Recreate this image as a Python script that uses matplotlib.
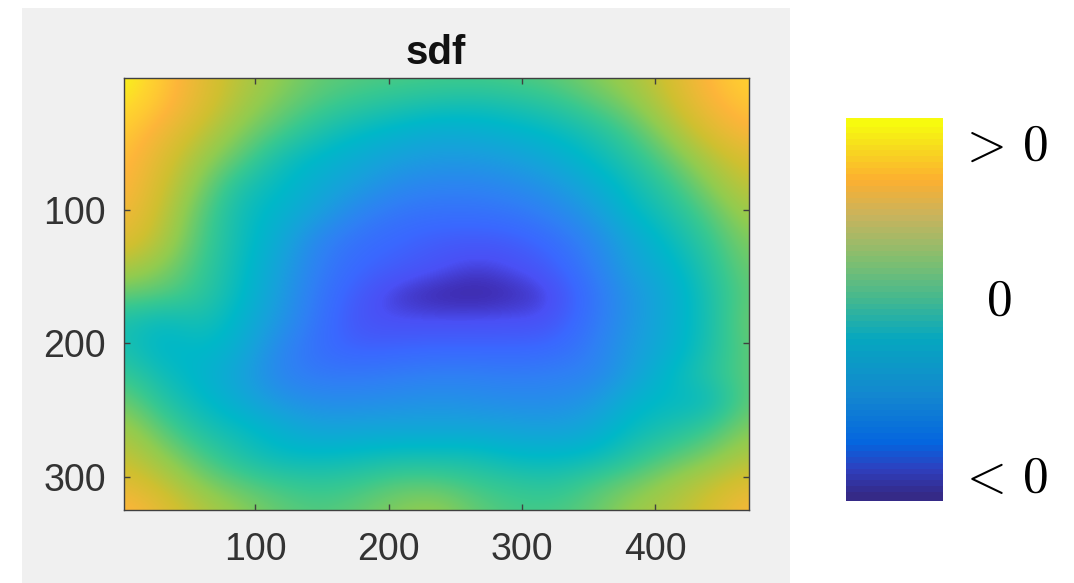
import numpy as np
import matplotlib
matplotlib.use("Agg")
import matplotlib.pyplot as plt
from matplotlib.colors import LinearSegmentedColormap
from matplotlib.patches import Rectangle

title = "sdf"
x_ticks = [100, 200, 300, 400]
y_ticks = [100, 200, 300]
bar_labels = [r"$>\,0$", "$0$", r"$<\,0$"]

sdf = [
    [1.00, .88, .74, .63, .56, .50, .48, .47, .46, .46, .47, .49, .54, .60, .70, .84, .92],
    [.95, .86, .72, .60, .52, .46, .42, .39, .37, .36, .38, .41, .47, .54, .66, .80, .88],
    [.90, .78, .65, .54, .46, .38, .33, .30, .27, .28, .30, .33, .38, .46, .58, .72, .82],
    [.86, .72, .58, .48, .36, .31, .27, .23, .21, .21, .23, .27, .33, .40, .50, .62, .72],
    [.84, .68, .53, .38, .33, .27, .22, .16, .14, .14, .16, .20, .27, .35, .43, .55, .66],
    [.80, .65, .48, .35, .30, .23, .14, .10, .09, .09, .10, .14, .21, .32, .38, .48, .60],
    [.74, .62, .46, .35, .27, .14, .09, .07, .05, .045, .05, .08, .15, .26, .34, .43, .55],
    [.62, .55, .44, .34, .24, .12, .07, .05, .035, .018, .03, .05, .12, .24, .30, .40, .52],
    [.50, .48, .42, .33, .22, .10, .045, .012, .002, 0, .006, .02, .09, .20, .27, .38, .50],
    [.38, .33, .38, .30, .20, .09, .035, .03, .028, .028, .03, .032, .10, .20, .28, .37, .52],
    [.38, .30, .33, .28, .15, .08, .055, .06, .065, .065, .065, .07, .12, .22, .28, .38, .50],
    [.44, .35, .30, .24, .14, .11, .11, .12, .13, .13, .12, .13, .14, .23, .33, .40, .50],
    [.52, .40, .33, .27, .20, .17, .17, .18, .19, .18, .17, .17, .20, .30, .33, .33, .50],
    [.60, .48, .38, .34, .29, .24, .25, .25, .25, .25, .24, .23, .26, .34, .38, .44, .55],
    [.66, .56, .46, .38, .33, .33, .34, .36, .36, .36, .32, .32, .33, .40, .47, .53, .62],
    [.74, .65, .54, .48, .44, .42, .44, .48, .48, .44, .42, .40, .46, .51, .58, .65, .72],
    [.85, .74, .63, .56, .50, .47, .50, .55, .58, .50, .46, .46, .50, .58, .63, .70, .82],
]

map_colors = [(0, "#3a2a98"), (.01, "#4030b8"), (.03, "#4a50f5"), (.07, "#3a68ff"), (.13, "#2f80f4"),
              (.23, "#18a0dc"), (.32, "#00b8c8"), (.44, "#38c890"), (.56, "#90cc50"), (.68, "#cfc030"),
              (.82, "#fdb53a"), (.92, "#ffd52e"), (1, "#f5fb14")]
bar_colors = [(0, "#352a87"), (.07, "#2f3fbf"), (.14, "#0566e0"), (.27, "#1488d0"),
              (.42, "#06a7c0"), (.53, "#45b98f"), (.63, "#80bf70"), (.75, "#c8b45e"),
              (.85, "#fdb030"), (.93, "#f8d820"), (1, "#f7fb0e")]
parula_map = LinearSegmentedColormap.from_list("parula_map", map_colors, N=1024)
parula_bar = LinearSegmentedColormap.from_list("parula_bar", bar_colors, N=64)

W, H = 1074, 583
plt.rcParams["font.family"] = ["Liberation Sans", "DejaVu Sans"]
plt.rcParams["mathtext.fontset"] = "cm"


def box(left, top, right, bottom):
    return [left / W, 1 - bottom / H, (right - left) / W, (bottom - top) / H]


fig = plt.figure(figsize=(W / 100, H / 100), dpi=100, facecolor="white")
fig.add_artist(Rectangle((22 / W, 0), 768 / W, 575 / H, transform=fig.transFigure,
                         facecolor="#f0f0f0", edgecolor="none", zorder=-1))

#Mapa principal
ax = fig.add_axes(box(124, 78, 749, 510))
sdf = np.array(sdf)
dx = 469 / (sdf.shape[1] - 1)
dy = 324 / (sdf.shape[0] - 1)
ax.imshow(sdf, cmap=parula_map, vmin=0, vmax=1, aspect="auto", interpolation="bicubic",
          extent=(1.5 - dx / 2, 470.5 + dx / 2, 325 + dy / 2, 1 - dy / 2))
ax.set_xlim(1.5, 470.5)
ax.set_ylim(325, 1)
ax.set_xticks(x_ticks)
ax.set_yticks(y_ticks)
ax.tick_params(direction="in", length=4, width=1, color="#404040", labelcolor="#333333",
               labelsize=27, top=True, right=True)
ax.tick_params(axis="x", pad=16)
ax.tick_params(axis="y", pad=13)
for spine in ax.spines.values():
    spine.set_color("#404040")
    spine.set_linewidth(1)
fig.text(436 / W, 1 - 53 / H, title, fontsize=29, fontweight="bold", color="#111111",
         ha="center", va="center")

#Barra de color
cax = fig.add_axes(box(846, 118, 943, 501))
gradient = np.linspace(1, 0, 64).reshape(-1, 1)
cax.imshow(gradient, cmap=parula_bar, vmin=0, vmax=1, aspect="auto", interpolation="bilinear")
cax.axis("off")

fig.text(1003 / W, 1 - 146 / H, bar_labels[0], fontsize=37, color="black", ha="center", va="center")
fig.text(999 / W, 1 - 301 / H, bar_labels[1], fontsize=37, color="black", ha="center", va="center")
fig.text(1003 / W, 1 - 479 / H, bar_labels[2], fontsize=37, color="black", ha="center", va="center")

fig.savefig("out.png", dpi=100)
